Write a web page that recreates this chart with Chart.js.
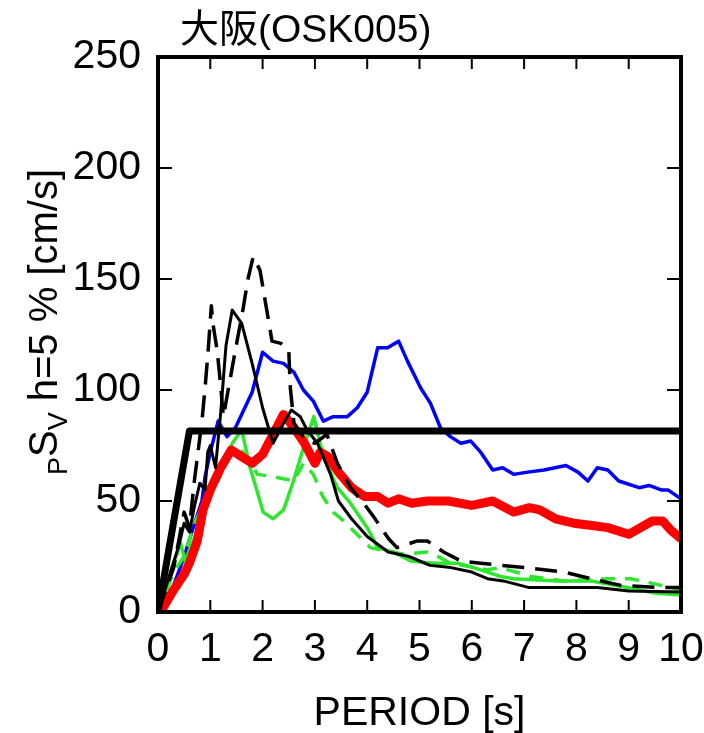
<!DOCTYPE html>
<html>
<head>
<meta charset="utf-8">
<script src="https://cdn.jsdelivr.net/npm/chart.js@4.4.0/dist/chart.umd.min.js"></script>
<style>
html,body{margin:0;padding:0;background:#fff;}
#wrap{width:704px;height:733px;position:relative;}
</style>
</head>
<body>
<div id="wrap"><canvas id="c" width="704" height="733"></canvas></div>
<script>
// ---- data (period [s], pSv [cm/s]) ----
const chartTitle = "大阪(OSK005)";
const xTitle = "PERIOD [s]";
const xTicks = [0,1,2,3,4,5,6,7,8,9,10];
const yTicks = [0,50,100,150,200,250];

const designSpectrum = [[0,0],[0.6,81.5],[10,81.5]];

const redWave = [[0,0],[0.1,2],[0.3,10],[0.5,17],[0.6,22],[0.75,32],[0.86,46],[1.0,55],[1.2,65],[1.4,73],[1.6,70],[1.8,67],[2.0,71],[2.2,80],[2.4,89],[2.6,83],[2.8,76],[3.0,67],[3.1,72],[3.25,70],[3.45,63],[3.7,56],[3.95,52],[4.2,52],[4.4,49],[4.6,51],[4.85,49],[5.15,50],[5.55,50],[6.0,48],[6.4,50],[6.8,45],[7.1,47],[7.3,46],[7.6,42],[7.95,40],[8.3,39],[8.6,38],[9.0,35],[9.45,41],[9.65,41],[9.8,37],[10,33]];

const blueWave = [[0,0],[0.3,12],[0.5,25],[0.7,40],[0.84,50],[0.9,61],[1.0,72],[1.15,86],[1.32,79],[1.48,83],[1.8,99],[2.0,117],[2.2,113],[2.4,112],[2.6,108],[2.78,100],[2.97,95],[3.16,86],[3.35,88],[3.62,88],[3.81,92],[4.0,99],[4.2,119],[4.39,119],[4.6,122],[4.77,113],[5.02,101],[5.21,94],[5.4,83],[5.59,79],[5.79,76],[5.98,77],[6.17,72],[6.4,64],[6.59,65],[6.8,62],[7.07,63],[7.38,64],[7.8,66],[8.03,63],[8.22,59],[8.4,65],[8.6,64],[8.81,59],[9.2,56],[9.39,57],[9.62,55],[9.75,55],[10,51]];

const greenSolid = [[0,0],[0.08,4],[0.29,22],[0.38,27],[0.42,32],[0.52,23],[0.71,34],[0.84,43],[0.96,56],[1.22,64],[1.42,76],[1.6,82],[1.76,65],[1.9,54],[2.01,45],[2.2,42],[2.4,46],[2.59,59],[2.78,74],[2.98,88],[3.16,70],[3.43,56],[3.68,49],[4.0,38],[4.2,29],[4.5,27],[4.83,23],[5.27,22],[5.73,22],[6.03,20],[6.3,18],[6.55,16],[6.8,15],[7.64,14],[8.28,14],[8.98,11],[9.48,8.6],[10,7.7]];

const greenDashed = [[0,0],[0.3,18],[0.5,25],[0.7,40],[0.9,50],[1.13,58],[1.3,68],[1.5,75],[1.7,70],[1.9,62],[2.2,61],[2.4,60],[2.6,59],[2.78,67],[2.97,62],[3.15,52],[3.35,45],[3.55,41],[4.06,29],[4.25,28],[4.7,26],[5.15,27],[5.27,26],[5.59,22],[6.3,19],[6.55,20],[7.13,16],[7.76,14],[8.6,15],[9.04,15],[9.43,13],[10,10]];

const blackSolid = [[0,0],[0.2,15],[0.4,30],[0.5,40],[0.6,36],[0.7,48],[0.8,58],[0.9,55],[0.95,72],[1.0,75],[1.1,65],[1.2,90],[1.3,120],[1.42,136],[1.6,130],[1.8,112],[2.0,92],[2.2,76],[2.4,85],[2.55,91],[2.72,88],[2.85,82],[3.05,76],[3.3,62],[3.45,50],[3.7,42],[4.0,34],[4.4,27],[4.8,25],[5.2,21],[5.6,20],[6.0,18],[6.3,15],[6.6,14],[7.1,11],[7.6,11],[8.4,11],[9.0,9.5],[10,9]];

const blackDashed = [[0,0],[0.3,20],[0.5,45],[0.6,38],[0.7,60],[0.84,86],[0.9,101],[0.96,118],[1.02,138],[1.05,130],[1.13,118],[1.19,104],[1.25,88],[1.48,118],[1.63,137],[1.72,150],[1.82,160],[1.95,154],[2.18,122],[2.35,121],[2.5,118],[2.53,101],[2.6,85],[2.8,78],[3.0,76],[3.23,80],[3.43,67],[3.68,56],[3.93,49],[4.12,43],[4.41,33],[4.57,29],[4.96,32],[5.15,32],[5.46,27],[5.79,23],[6.17,22],[6.55,21],[7.0,20],[7.76,18],[8.28,15],[8.85,12],[9.62,11],[10,11]];

function pts(a){ return a.map(p => ({x:p[0], y:p[1]})); }

const FONT = "'Liberation Sans', Arial, Helvetica, sans-serif";

const framePlugin = {
  id: 'frame',
  afterDatasetsDraw(chart){
    const {ctx, chartArea:a, scales:{x, y}} = chart;
    ctx.save();
    ctx.strokeStyle = '#000';
    ctx.lineWidth = 2;
    ctx.beginPath();
    xTicks.forEach(v => {
      if (v === 0 || v === 10) return;
      const px = x.getPixelForValue(v);
      ctx.moveTo(px, a.bottom); ctx.lineTo(px, a.bottom - 12);
      ctx.moveTo(px, a.top); ctx.lineTo(px, a.top + 12);
    });
    yTicks.forEach(v => {
      if (v === 0 || v === 250) return;
      const py = y.getPixelForValue(v);
      ctx.moveTo(a.left, py); ctx.lineTo(a.left + 14, py);
      ctx.moveTo(a.right, py); ctx.lineTo(a.right - 14, py);
    });
    ctx.stroke();
    ctx.lineWidth = 4;
    ctx.strokeRect(a.left, a.top, a.right - a.left, a.bottom - a.top);
    ctx.restore();
  },
  afterDraw(chart){
    const {ctx, chartArea:a} = chart;
    ctx.save();
    ctx.fillStyle = '#000';
    ctx.font = "39px " + FONT + ", 'Noto Sans CJK JP'";
    ctx.textBaseline = 'alphabetic';
    ctx.textAlign = 'left';
    ctx.fillText(chartTitle, 180, 42);
    ctx.font = "41px " + FONT;
    ctx.textAlign = 'center';
    ctx.fillText(xTitle, (a.left + a.right)/2, 725);
    ctx.translate(57, 322);
    ctx.rotate(-Math.PI/2);
    const big = "40px " + FONT, small = "27px " + FONT;
    const parts = [["P", small, 10],["S", big, 0],["V", small, 10],[" h=5 % [cm/s]", big, 0]];
    let w = 0;
    parts.forEach(p => { ctx.font = p[1]; w += ctx.measureText(p[0]).width; });
    let cx = -w/2;
    ctx.textAlign = 'left';
    parts.forEach(p => {
      ctx.font = p[1];
      ctx.fillText(p[0], cx, p[2]);
      cx += ctx.measureText(p[0]).width;
    });
    ctx.restore();
  }
};

const ds = (data, color, width, dash) => ({
  data: pts(data), borderColor: color, borderWidth: width, borderDash: dash || [],
  pointRadius: 0, fill: false, tension: 0, showLine: true, borderJoinStyle: 'round'
});

new Chart(document.getElementById('c'), {
  type: 'scatter',
  data: {
    datasets: [
      ds(designSpectrum, '#000000', 7),
      ds(blackDashed, '#000000', 3.5, [22, 11]),
      ds(blackSolid, '#000000', 3),
      ds(redWave, '#ff0000', 9),
      ds(greenDashed, '#2ee62e', 3.5, [14, 10]),
      ds(greenSolid, '#2ee62e', 3.5),
      ds(blueWave, '#0000ff', 3.5)
    ]
  },
  options: {
    responsive: false,
    animation: false,
    devicePixelRatio: 1,
    layout: { padding: { left: 0, top: 57, right: 23, bottom: 0 } },
    plugins: { legend: { display: false }, tooltip: { enabled: false } },
    scales: {
      x: {
        type: 'linear', min: 0, max: 10,
        afterBuildTicks: s => { s.ticks = xTicks.map(v => ({value: v})); },
        afterFit: s => { s.height = 121; s.paddingLeft = 0; s.paddingRight = 0; },
        grid: { display: false, drawTicks: false },
        border: { display: false },
        ticks: { color: '#000', font: { family: FONT, size: 41 }, padding: 13, maxRotation: 0, autoSkip: false }
      },
      y: {
        type: 'linear', min: 0, max: 250,
        afterBuildTicks: s => { s.ticks = yTicks.map(v => ({value: v})); },
        afterFit: s => { s.width = 158; s.paddingTop = 0; s.paddingBottom = 0; },
        grid: { display: false, drawTicks: false },
        border: { display: false },
        ticks: { color: '#000', font: { family: FONT, size: 41 }, padding: 17, autoSkip: false }
      }
    }
  },
  plugins: [framePlugin]
});
</script>
</body>
</html>
